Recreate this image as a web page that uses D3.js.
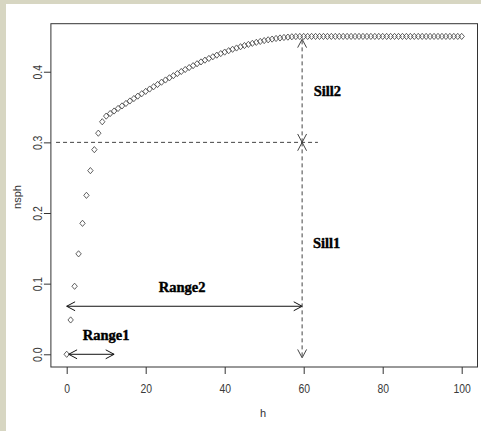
<!DOCTYPE html>
<html>
<head>
<meta charset="utf-8">
<script src="https://cdn.jsdelivr.net/npm/d3@7"></script>
<style>
  html, body { margin: 0; padding: 0; background: #d7d6c2; }
  svg { display: block; }
</style>
</head>
<body>
<script>
// ---- data ----
const nsph = [
  0, 0.0486, 0.0963, 0.1422, 0.1854, 0.225, 0.26, 0.2897, 0.313, 0.3292,
  0.3372, 0.3408, 0.3444, 0.348, 0.3516, 0.3551, 0.3586, 0.362, 0.3655, 0.3689,
  0.3722, 0.3755, 0.3788, 0.382, 0.3852, 0.3883, 0.3914, 0.3944, 0.3974, 0.4003,
  0.4031, 0.4059, 0.4086, 0.4113, 0.4139, 0.4164, 0.4188, 0.4212, 0.4235, 0.4257,
  0.4278, 0.4298, 0.4318, 0.4336, 0.4354, 0.4371, 0.4387, 0.4402, 0.4416, 0.4429,
  0.4441, 0.4452, 0.4462, 0.4471, 0.4478, 0.4485, 0.449, 0.4495, 0.4498, 0.4499,
  0.45,
  0.45, 0.45, 0.45, 0.45, 0.45, 0.45, 0.45, 0.45, 0.45, 0.45,
  0.45, 0.45, 0.45, 0.45, 0.45, 0.45, 0.45, 0.45, 0.45, 0.45,
  0.45, 0.45, 0.45, 0.45, 0.45, 0.45, 0.45, 0.45, 0.45, 0.45,
  0.45, 0.45, 0.45, 0.45, 0.45, 0.45, 0.45, 0.45, 0.45, 0.45
];
const hValues = nsph.map((_, i) => i);
const xTicks = [0, 20, 40, 60, 80, 100];
const yTicks = [0.0, 0.1, 0.2, 0.3, 0.4];
const xLabel = "h";
const yLabel = "nsph";

// annotations in data units
const arrowsData = [
  { x1: 0.5, y1: 0, x2: 12, y2: 0, dashed: false },
  { x1: 0, y1: 0.068, x2: 59.6, y2: 0.068, dashed: false },
  { x1: 59.6, y1: 0.3, x2: 59.6, y2: -0.005, dashed: true },
  { x1: 59.6, y1: 0.3, x2: 59.6, y2: 0.446, dashed: true }
];
const sillLine = { x1: -2.7, x2: 63.6, y: 0.3 };
const labelsData = [
  { text: "Range1", x: 10, y: 0.027 },
  { text: "Range2", x: 29.2, y: 0.095 },
  { text: "Sill1", x: 65.8, y: 0.158 },
  { text: "Sill2", x: 66, y: 0.373 }
];

// ---- drawing ----
(function () {
const W = 481, H = 431;
const svg = d3.select("body").append("svg").attr("width", W).attr("height", H);

svg.append("rect").attr("width", W).attr("height", H).attr("fill", "#d7d6c2");
svg.append("rect").attr("x", 6).attr("y", 4).attr("width", W - 6).attr("height", H - 4).attr("fill", "#ffffff");

const pLeft = 50.9, pRight = 477.5, pTop = 23.7, pBottom = 367;
const x = d3.scaleLinear().domain([-4, 104]).range([pLeft, pRight]);
const y = d3.scaleLinear().domain([-0.018, 0.468]).range([pBottom, pTop]);

const ink = "#333333";
const tickFont = "'Liberation Sans Narrow', 'Liberation Sans', Arial, sans-serif";

// box
svg.append("rect").attr("x", pLeft).attr("y", pTop)
  .attr("width", pRight - pLeft).attr("height", pBottom - pTop)
  .attr("fill", "none").attr("stroke", ink).attr("stroke-width", 1);

// x axis
const gx = svg.append("g").attr("transform", `translate(0,${pBottom})`)
  .call(d3.axisBottom(x).tickValues(xTicks).tickSize(7).tickFormat(d3.format("d")));
gx.select(".domain").remove();
gx.selectAll(".tick line").attr("stroke", ink);
gx.selectAll(".tick text")
  .attr("y", 26).attr("dy", null)
  .attr("transform", "scale(0.8,1)")
  .attr("fill", "#3a3a3a")
  .style("font-family", tickFont)
  .style("font-size", "13px");

// y axis
const gy = svg.append("g").attr("transform", `translate(${pLeft},0)`)
  .call(d3.axisLeft(y).tickValues(yTicks).tickSize(7).tickFormat(d3.format(".1f")));
gy.select(".domain").remove();
gy.selectAll(".tick line").attr("stroke", ink);
gy.selectAll(".tick text")
  .attr("x", null).attr("dy", null)
  .attr("transform", "translate(-9,0) rotate(-90) scale(0.8,1)")
  .attr("text-anchor", "middle")
  .attr("fill", "#3a3a3a")
  .style("font-family", tickFont)
  .style("font-size", "13px");

// axis titles
svg.append("text").attr("x", 263).attr("y", 417).attr("text-anchor", "middle")
  .attr("fill", "#333")
  .style("font-family", "'Liberation Sans', Arial, sans-serif").style("font-size", "11px")
  .text(xLabel);
svg.append("text").attr("transform", "translate(21,197) rotate(-90)").attr("text-anchor", "middle")
  .attr("fill", "#333")
  .style("font-family", "'Liberation Sans', Arial, sans-serif").style("font-size", "11px")
  .text(yLabel);

// points (pch = 5 diamonds)
const dx = 2.7, dy = 3.1;
svg.append("g").selectAll("path").data(nsph).join("path")
  .attr("d", (d, i) => {
    const px = x(hValues[i]), py = y(d);
    return `M${px},${py - dy}L${px + dx},${py}L${px},${py + dy}L${px - dx},${py}Z`;
  })
  .attr("fill", "none").attr("stroke", "#3a3a3a").attr("stroke-width", 0.8);

// dashed horizontal line at sill1
svg.append("line")
  .attr("x1", x(sillLine.x1)).attr("x2", x(sillLine.x2))
  .attr("y1", y(sillLine.y)).attr("y2", y(sillLine.y))
  .attr("stroke", "#444").attr("stroke-width", 1).attr("stroke-dasharray", "4,3");

// arrows with heads at both ends
const headLen = 9.5, headAng = 28 * Math.PI / 180;
const ag = svg.append("g");
arrowsData.forEach(a => {
  const X1 = x(a.x1), Y1 = y(a.y1), X2 = x(a.x2), Y2 = y(a.y2);
  const col = a.dashed ? "#444" : "#111";
  ag.append("line").attr("x1", X1).attr("y1", Y1).attr("x2", X2).attr("y2", Y2)
    .attr("stroke", col).attr("stroke-width", 1)
    .attr("stroke-dasharray", a.dashed ? "4,3" : null);
  const ends = [[X1, Y1, X2, Y2], [X2, Y2, X1, Y1]];
  ends.forEach(([tx, ty, fx, fy]) => {
    const ang = Math.atan2(fy - ty, fx - tx);
    const p = [ang - headAng, ang + headAng].map(t => [tx + headLen * Math.cos(t), ty + headLen * Math.sin(t)]);
    ag.append("path")
      .attr("d", `M${p[0][0]},${p[0][1]}L${tx},${ty}L${p[1][0]},${p[1][1]}`)
      .attr("fill", "none").attr("stroke", col).attr("stroke-width", 1);
  });
});

// labels
svg.append("g").selectAll("text").data(labelsData).join("text")
  .attr("x", d => x(d.x)).attr("y", d => y(d.y)).attr("dy", "0.35em")
  .attr("text-anchor", "middle")
  .attr("fill", "#000")
  .attr("stroke", "#000").attr("stroke-width", 0.4)
  .style("font-family", "'Liberation Serif', 'Times New Roman', serif")
  .style("font-weight", "bold").style("font-size", "14.5px")
  .text(d => d.text);
})();
</script>
</body>
</html>
